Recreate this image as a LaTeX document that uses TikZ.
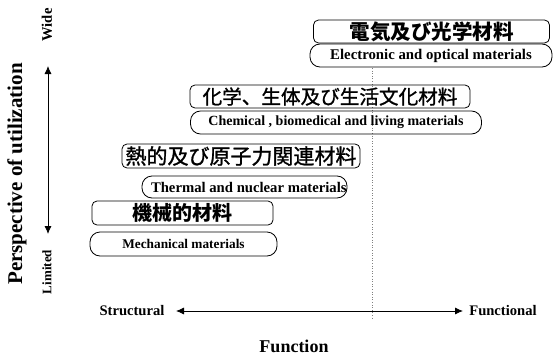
\documentclass[tikz,border=0pt]{standalone}
\usepackage{fontspec}
\setmainfont{Liberation Serif}
\newfontfamily\jpfont{Noto Sans CJK JP}
\newfontfamily\jpmed[FakeBold=1.2]{Noto Sans CJK JP}
\usetikzlibrary{arrows.meta}
\tikzset{
  jpbox/.style={draw=black, line width=0.8pt, rounded corners=5pt, inner sep=0pt},
  enbox/.style={draw=black, line width=0.8pt, rounded corners=10pt, inner sep=0pt},
  lbl/.style={inner sep=0pt, font=\bfseries\fontsize{14.6}{15}\selectfont},
  axis/.style={line width=0.8pt, {Latex[length=8pt,width=7pt]}-{Latex[length=8pt,width=7pt]}},
}
\newcommand{\jfs}[1]{\fontsize{#1}{#1}\selectfont}
\newcommand{\efs}[1]{\bfseries\fontsize{#1}{#1}\selectfont}
\begin{document}
\begin{tikzpicture}[x=1pt,y=-1pt]
\useasboundingbox (0,0) rectangle (557,356);
% dotted divider
\coordinate (dtop) at (372,68);
\coordinate (dbot) at (372,318);
\draw[gray, dotted, line width=0.6pt] (dtop) -- (dbot);
% boxes
\node[jpbox, minimum width=236pt, minimum height=23pt, font=\jpfont\bfseries\jfs{20.5}] (eJP) at (431.5,31.5) {電気及び光学材料};
\node[enbox, minimum width=242pt, minimum height=23pt, font=\efs{14.8}] (eEN) at (431,55.5) {Electronic and optical materials};
\node[jpbox, minimum width=280pt, minimum height=23pt, font=\jpmed\jfs{19.6}] (cJP) at (330,96.5) {化学、生体及び生活文化材料};
\node[enbox, minimum width=291pt, minimum height=23pt, font=\efs{14}] (cEN) at (336,122.5) {Chemical , biomedical and living materials};
\node[jpbox, minimum width=238pt, minimum height=24pt, font=\jpmed\jfs{21}] (tJP) at (241,156) {熱的及び原子力関連材料};
\node[enbox, minimum width=205pt, minimum height=22pt, font=\efs{14.7}] (tEN) at (244.5,187) {\makebox[205pt][l]{\hspace*{9pt}Thermal and nuclear materials}};
\node[jpbox, minimum width=181pt, minimum height=24pt, font=\jpfont\bfseries\jfs{20}] (mJP) at (182.5,213) {機械的材料};
\node[enbox, minimum width=187pt, minimum height=24pt, font=\efs{13.3}] (mEN) at (183.5,244) {Mechanical materials};
% vertical axis
\node[lbl, rotate=90] (wide) at (47,25) {Wide};
\node[lbl, rotate=90, font=\bfseries\fontsize{13}{13}\selectfont] (limited) at (47,272) {Limited};
\coordinate (vtop) at (48,66);
\coordinate (vbot) at (48,234);
\draw[axis] (vbot) -- (vtop);
\node[inner sep=0pt, rotate=90, font=\bfseries\fontsize{21}{21}\selectfont] (persp) at (17,174) {Perspective of utilization};
% horizontal axis
\node[lbl] (struct) at (132,311) {Structural};
\node[lbl] (func) at (503,311) {Functional};
\coordinate (hl) at (176,311);
\coordinate (hr) at (463,311);
\draw[axis] (hl) -- (hr);
\node[inner sep=0pt, font=\bfseries\fontsize{18}{18}\selectfont] (function) at (294,346) {Function};
\end{tikzpicture}
\end{document}
